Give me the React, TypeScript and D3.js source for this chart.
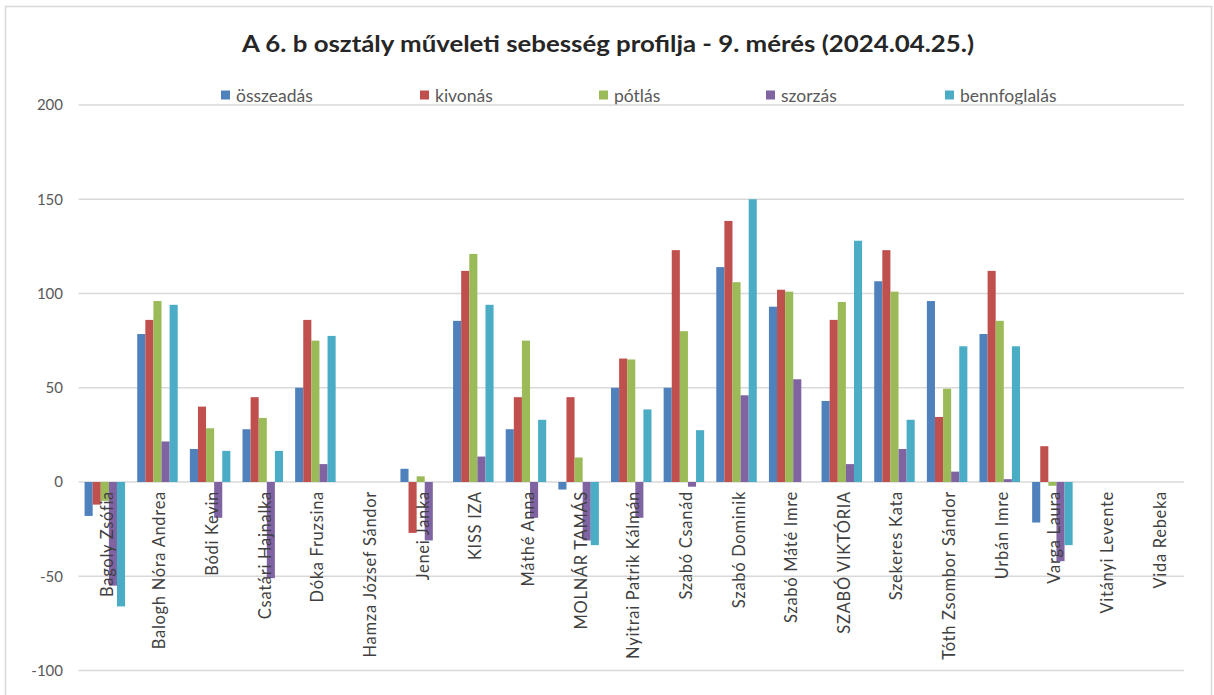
import React from "react";
import * as d3 from "d3";

const categories = [
  "Bagoly Zsófia", "Balogh Nóra Andrea", "Bódi Kevin", "Csatári Hajnalka", "Dóka Fruzsina",
  "Hamza József Sándor", "Jenei Janka", "KISS IZA", "Máthé Anna", "MOLNÁR TAMÁS",
  "Nyitrai Patrik Kálmán", "Szabó Csanád", "Szabó Dominik", "Szabó Máté Imre", "SZABÓ VIKTÓRIA",
  "Szekeres Kata", "Tóth Zsombor Sándor", "Urbán Imre", "Varga Laura", "Vitányi Levente", "Vida Rebeka",
];

const seriesNames = ["összeadás", "kivonás", "pótlás", "szorzás", "bennfoglalás"];

const osszeadas = [-18, 78.5, 17.5, 28, 50, null, 7, 85.5, 28, -4, 50, 50, 114, 93, 43, 106.5, 96, 78.5, -21.5, null, null];
const kivonas = [-12, 86, 40, 45, 86, null, -27, 112, 45, 45, 65.5, 123, 138.5, 102, 86, 123, 34.5, 112, 19, null, null];
const potlas = [-10, 96, 28.5, 34, 75, null, 3, 121, 75, 13, 65, 80, 106, 101, 95.5, 101, 49.5, 85.5, -2, null, null];
const szorzas = [-55, 21.5, -19, -51, 9.5, null, -31, 13.5, -19, -31, -19, -2.5, 46, 54.5, 9.5, 17.5, 5.5, 1.5, -42, null, null];
const bennfoglalas = [-66, 94, 16.5, 16.5, 77.5, null, null, 94, 33, -33.5, 38.5, 27.5, 150, null, 128, 33, 72, 72, -33.5, null, null];

const yTicks = [-100, -50, 0, 50, 100, 150, 200];

const title = "A 6. b osztály műveleti sebesség profilja - 9. mérés (2024.04.25.)";

// styling / layout
const colors = ["#4F81BD", "#C0504D", "#9BBB59", "#8064A2", "#4BACC6"];
const legendX = [221, 420, 599, 766, 945];
const W = 1214;
const H = 695;
const FONT = "Lato, 'Open Sans', sans-serif";

export default function App() {
  const seriesValues = [osszeadas, kivonas, potlas, szorzas, bennfoglalas];
  const x0 = d3.scaleBand<string>().domain(categories).range([78.5, 1184]).paddingInner(0).paddingOuter(0);
  const x1 = d3.scaleBand<string>().domain(seriesNames).range([0, x0.bandwidth()]).paddingInner(0).paddingOuter(0.75);
  const y = d3.scaleLinear().domain([-100, 200]).range([670.5, 105]);

  return (
    <svg width={W} height={H} style={{ position: "absolute", left: 0, top: 0, background: "#fff" }}>
      <rect x={5.5} y={6.5} width={1206} height={720} fill="#fff" stroke="#d9d9d9" strokeWidth={1.5} />
      <text x={608} y={52} textAnchor="middle" fontFamily={FONT} fontWeight="bold" fontSize={22} fill="#262626" textLength={732} lengthAdjust="spacingAndGlyphs">
        {title}
      </text>
      {seriesNames.map((s, i) => (
        <g key={s}>
          <rect x={legendX[i]} y={90.5} width={9} height={9} fill={colors[i]} />
          <text x={legendX[i] + 15} y={101.5} fontFamily={FONT} fontSize={17.5} fill="#595959">{s}</text>
        </g>
      ))}
      {yTicks.map((t) => (
        <g key={t}>
          <line x1={78.5} x2={1184} y1={y(t)} y2={y(t)} stroke="#d9d9d9" strokeWidth={1.3} />
          <text x={63} y={y(t)} dy="0.35em" textAnchor="end" fontFamily={FONT} fontSize={15} fill="#595959">{t}</text>
        </g>
      ))}
      {categories.map((c, ci) => (
        <g key={c} transform={`translate(${x0(c)},0)`}>
          {seriesNames.map((s, si) => {
            const v = seriesValues[si][ci];
            if (v === null || v === undefined) return null;
            const top = y(Math.max(0, v));
            const bot = y(Math.min(0, v));
            return (
              <rect key={s} x={x1(s)} y={top} width={x1.bandwidth()} height={bot - top} fill={colors[si]} />
            );
          })}
        </g>
      ))}
      {categories.map((c) => {
        const cx = (x0(c) as number) + x0.bandwidth() / 2 + 2;
        return (
          <text key={c} transform={`translate(${cx},${y(0) + 9}) rotate(-90)`} textAnchor="end" dominantBaseline="central" fontFamily={FONT} fontSize={16.5} letterSpacing={0.7} fill="#404040">
            {c}
          </text>
        );
      })}
    </svg>
  );
}
